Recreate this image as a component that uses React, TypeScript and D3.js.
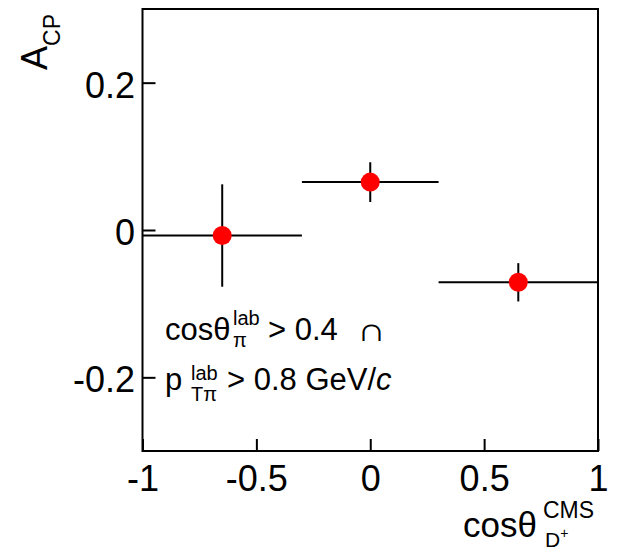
import React, { useRef, useEffect } from "react";
import * as d3 from "d3";

// tick values of both axes
const xTicks = [-1, -0.5, 0, 0.5, 1];
const yTicks = [-0.2, 0, 0.2];

// cos(theta) bins, their centres and the measured A_CP with errors
const binLow = [-1, -0.3, 0.3];
const binHigh = [-0.3, 0.3, 1];
const binCenter = [-0.65, 0, 0.65];
const acp = [-0.0075, 0.065, -0.071];
const acpErr = [0.0695, 0.027, 0.026];

const FONT = "'Liberation Sans', Arial, Helvetica, sans-serif";

const AcpChart = () => {
  const svgRef = useRef<SVGSVGElement>(null);

  useEffect(() => {
    const svg = d3.select(svgRef.current);
    svg.selectAll("*").remove();

    const width = 618;
    const height = 550;
    const left = 142.5;
    const right = 598;
    const top = 9;
    const bottom = 451;

    svg.attr("width", width).attr("height", height);

    const x = d3.scaleLinear().domain([-1, 1]).range([left, right]);
    const y = d3.scaleLinear().domain([-0.3, 0.3]).range([bottom, top]);

    // y axis, ticks pointing inwards
    const gy = svg
      .append("g")
      .attr("transform", `translate(${left},0)`)
      .call(
        d3
          .axisLeft(y)
          .tickValues(yTicks)
          .tickSize(-13)
          .tickPadding(7.5)
          .tickFormat((d) => String(d))
      );
    gy.select(".domain").remove();
    gy.selectAll(".tick line").attr("stroke", "#000").attr("stroke-width", 2);
    gy.selectAll(".tick text")
      .attr("font-family", FONT)
      .attr("font-size", 36)
      .attr("fill", "#000")
      .attr("dy", "0.4em");

    // x axis
    const gx = svg
      .append("g")
      .attr("transform", `translate(0,${bottom})`)
      .call(
        d3
          .axisBottom(x)
          .tickValues(xTicks)
          .tickSize(-12)
          .tickPadding(14)
          .tickFormat((d) => String(d))
      );
    gx.select(".domain").remove();
    gx.selectAll(".tick line").attr("stroke", "#000").attr("stroke-width", 2);
    gx.selectAll(".tick text")
      .attr("font-family", FONT)
      .attr("font-size", 36)
      .attr("fill", "#000");

    // frame
    svg
      .append("rect")
      .attr("x", left)
      .attr("y", top)
      .attr("width", right - left)
      .attr("height", bottom - top)
      .attr("fill", "none")
      .attr("stroke", "#000")
      .attr("stroke-width", 2);

    const pts = binCenter.map((c, i) => ({
      c,
      lo: binLow[i],
      hi: binHigh[i],
      v: acp[i],
      e: acpErr[i],
    }));

    // error bars
    const eb = svg.append("g").attr("stroke", "#000").attr("stroke-width", 2);
    eb.selectAll("line.h")
      .data(pts)
      .join("line")
      .attr("class", "h")
      .attr("x1", (d) => x(d.lo))
      .attr("x2", (d) => x(d.hi))
      .attr("y1", (d) => y(d.v))
      .attr("y2", (d) => y(d.v));
    eb.selectAll("line.v")
      .data(pts)
      .join("line")
      .attr("class", "v")
      .attr("x1", (d) => x(d.c))
      .attr("x2", (d) => x(d.c))
      .attr("y1", (d) => y(d.v + d.e))
      .attr("y2", (d) => y(d.v - d.e));

    // markers
    svg
      .append("g")
      .selectAll("circle")
      .data(pts)
      .join("circle")
      .attr("cx", (d) => x(d.c))
      .attr("cy", (d) => y(d.v))
      .attr("r", 9.5)
      .attr("fill", "#ff0000");

    // y title A_CP
    const yt = svg
      .append("text")
      .attr("font-family", FONT)
      .attr("font-size", 36)
      .attr("transform", "translate(47,70) rotate(-90)");
    yt.append("tspan").text("A");
    yt.append("tspan").attr("font-size", 23).attr("dy", 13).text("CP");

    // x title cos theta_D+^CMS
    const xt = svg.append("g").attr("font-family", FONT);
    xt.append("text")
      .attr("x", 463)
      .attr("y", 537)
      .attr("font-size", 35)
      .text("cosθ");
    xt.append("text")
      .attr("x", 543)
      .attr("y", 518)
      .attr("font-size", 23)
      .text("CMS");
    const dp = xt
      .append("text")
      .attr("x", 545)
      .attr("y", 547)
      .attr("font-size", 21);
    dp.append("tspan").text("D");
    dp.append("tspan").attr("font-size", 14).attr("dy", -9).text("+");

    // selection annotation
    const ann = svg.append("g").attr("font-family", FONT).attr("fill", "#000");
    ann.append("text").attr("x", 165).attr("y", 340).attr("font-size", 31).text("cosθ");
    ann.append("text").attr("x", 233).attr("y", 325).attr("font-size", 20).text("lab");
    ann.append("text").attr("x", 233).attr("y", 347).attr("font-size", 20).text("π");
    ann.append("text").attr("x", 268).attr("y", 340).attr("font-size", 31).text("> 0.4");
    ann.append("text")
      .attr("transform", "translate(357,341) scale(1.3,1.05)")
      .attr("font-size", 31)
      .text("∩");

    ann.append("text").attr("x", 165).attr("y", 390).attr("font-size", 31).text("p");
    ann.append("text").attr("x", 191).attr("y", 380).attr("font-size", 20).text("lab");
    ann.append("text").attr("x", 191).attr("y", 401).attr("font-size", 20).text("Tπ");
    const l2 = ann.append("text").attr("x", 227).attr("y", 390).attr("font-size", 31);
    l2.append("tspan").text("> 0.8 GeV/");
    l2.append("tspan").attr("font-style", "italic").text("c");
  }, []);

  return (
    <svg
      ref={svgRef}
      style={{ position: "absolute", left: 0, top: 0, background: "#fff" }}
    ></svg>
  );
};

export default function App() {
  return <AcpChart />;
}
